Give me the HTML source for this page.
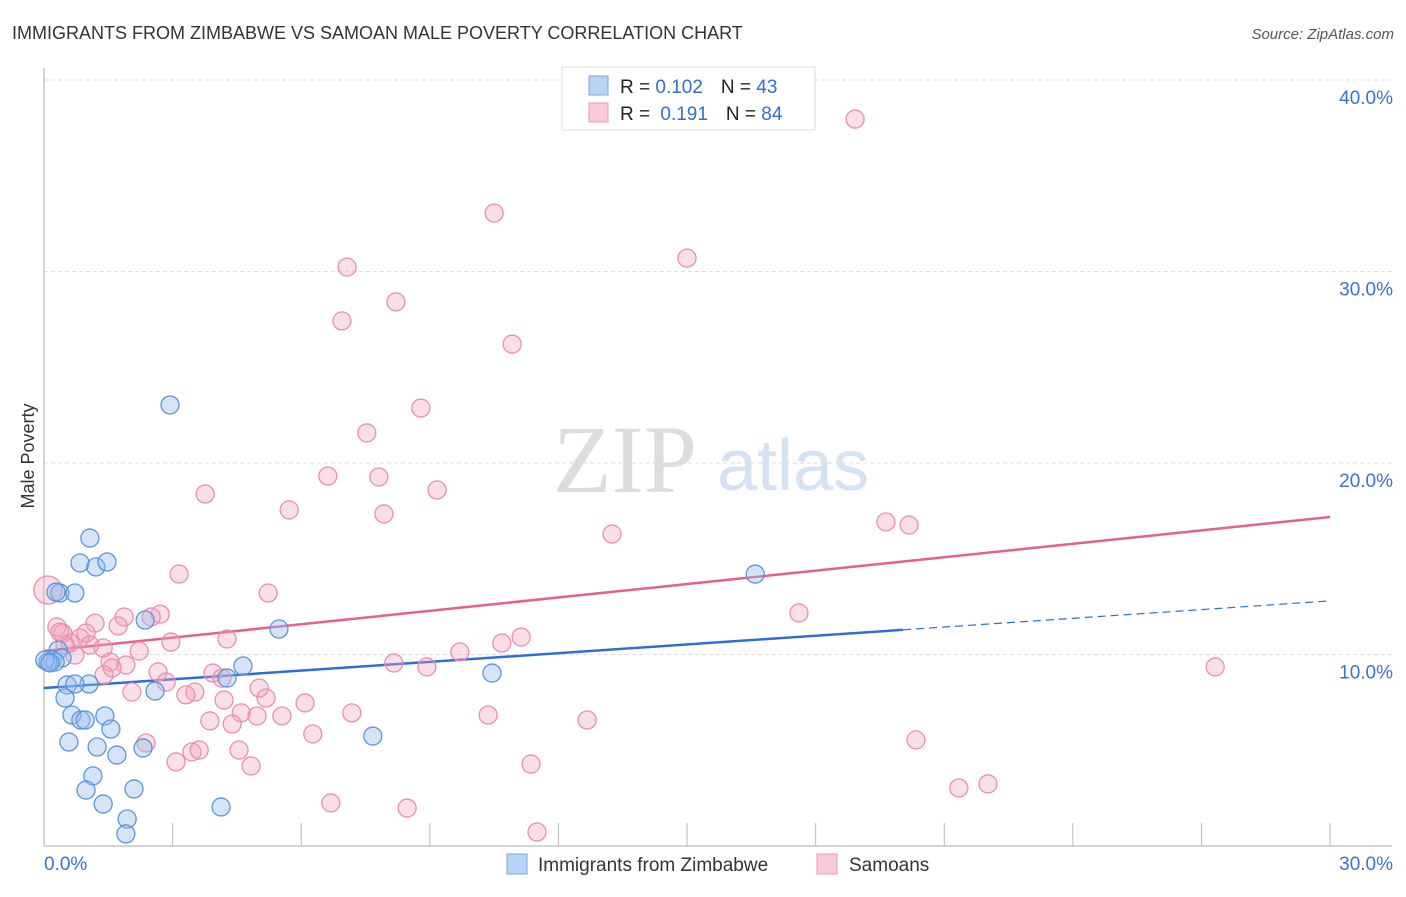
<!DOCTYPE html>
<html><head><meta charset="utf-8"><style>
body{margin:0;background:#fff;font-family:"Liberation Sans",sans-serif}
</style></head><body>
<svg width="1406" height="892" xmlns="http://www.w3.org/2000/svg" font-family="Liberation Sans, sans-serif">
<text x="12" y="39" font-size="18" fill="#333">IMMIGRANTS FROM ZIMBABWE VS SAMOAN MALE POVERTY CORRELATION CHART</text>
<text x="1394" y="39" font-size="15" fill="#555" font-style="italic" text-anchor="end">Source: ZipAtlas.com</text>
<g>
<text x="553" y="492" font-size="96" font-family="Liberation Serif, serif" fill="#ddd">ZIP</text>
<text x="717" y="490" font-size="72" fill="#d4e2f4">atlas</text>
</g>
<g id="grid"></g>
<g id="axes"></g>
<text transform="translate(34,456) rotate(-90)" font-size="18" fill="#333" text-anchor="middle">Male Poverty</text>
<g id="lines"></g>
<g id="pts"></g>
<g>
<rect x="562" y="67" width="253" height="63" fill="#fff" stroke="#ddd"/>
<rect x="589" y="76" width="19" height="19" fill="#b8d3f5" stroke="#7aa6e0"/>
<rect x="589" y="103" width="19" height="19" fill="#f9cad8" stroke="#ec9ab5"/>
<text x="620" y="93" font-size="19" fill="#222">R = <tspan fill="#2f6fd0">0.102</tspan><tspan dx="18">N = </tspan><tspan fill="#2f6fd0">43</tspan></text>
<text x="620" y="120" font-size="19" fill="#222">R = <tspan fill="#2f6fd0" dx="5">0.191</tspan><tspan dx="18">N = </tspan><tspan fill="#2f6fd0">84</tspan></text>
</g>
<g>
<rect x="507" y="854" width="20" height="20" fill="#b8d3f5" stroke="#7aa6e0"/>
<text x="538" y="871" font-size="19" fill="#333">Immigrants from Zimbabwe</text>
<rect x="817" y="854" width="20" height="20" fill="#f9cad8" stroke="#ec9ab5"/>
<text x="849" y="871" font-size="19" fill="#333">Samoans</text>
</g>
</svg>
<script>
const yTicks=[10,20,30,40];
const yTickLabels=["10.0%","20.0%","30.0%","40.0%"];
const xTickLabels=["0.0%","30.0%"];
const blueX=[2.94,1.07,0.84,1.21,1.47,0.37,0.72,2.36,5.48,0.33,0.19,0.42,0.26,0.09,4.64,10.45,0.54,1.05,0.72,2.59,4.27,0.49,0.65,1.42,0.86,0.96,1.56,0.58,1.24,1.70,2.31,7.67,1.14,0.98,2.10,1.38,4.13,1.94,1.91,16.59,0.02,0.14,0.28];
const blueY=[23.03,16.08,14.78,14.57,14.83,13.21,13.21,11.80,11.33,10.23,9.71,9.82,9.61,9.61,9.40,9.03,8.41,8.46,8.46,8.09,8.77,7.73,6.84,6.79,6.58,6.58,6.11,5.43,5.17,4.75,5.12,5.74,3.66,2.92,2.98,2.19,2.04,1.41,0.63,14.20,9.71,9.56,13.26];
const pinkX=[18.92,10.50,15.00,7.07,8.21,6.95,10.92,8.79,7.53,6.62,7.81,9.17,3.76,5.72,7.93,19.64,20.18,13.25,3.15,5.23,1.87,2.71,2.50,1.73,1.19,0.30,0.44,0.98,0.84,0.61,1.38,0.72,0.49,2.96,4.27,11.13,10.68,17.61,2.22,1.54,1.91,1.59,9.70,8.16,8.93,27.32,2.66,3.94,4.15,1.40,2.85,5.02,3.52,3.31,2.05,5.18,6.09,4.20,4.60,4.97,5.55,7.18,10.36,12.67,3.87,4.39,6.27,2.38,20.34,3.08,3.45,3.62,4.55,4.83,11.36,21.34,22.02,6.69,8.47,11.50,0.09,1.07,0.37];
const pinkY=[37.96,33.05,30.70,30.23,28.41,27.42,26.21,22.87,21.57,19.32,19.27,18.59,18.38,17.55,17.34,16.92,16.76,16.29,14.20,13.21,11.96,12.11,11.96,11.49,11.64,11.44,11.12,11.12,10.86,10.60,10.34,9.97,10.50,10.65,10.81,10.91,10.60,12.17,10.18,9.61,9.45,9.30,10.13,9.56,9.35,9.35,9.09,9.03,8.77,8.93,8.56,8.25,8.04,7.89,8.04,7.73,7.47,7.62,6.95,6.79,6.79,6.95,6.84,6.58,6.53,6.37,5.85,5.38,5.54,4.39,4.91,5.01,5.01,4.18,4.28,3.03,3.24,2.25,1.98,0.73,13.37,10.50,11.17];
const blueTrend=[8.25,12.8]; // value at x=0 and x=30
const blueSolidEnd=20.04;
const pinkTrend=[10.18,17.18];
const X=v=>44+v*42.87, Y=v=>846-v*19.15;
const NS="http://www.w3.org/2000/svg";
function mk(t,a,p){const e=document.createElementNS(NS,t);for(const k in a)e.setAttribute(k,a[k]);p.appendChild(e);return e;}
const grid=document.getElementById('grid'),axes=document.getElementById('axes');
yTicks.forEach((t,i)=>{
 const l=mk('line',{x1:44,x2:1392,y1:Y(t),y2:Y(t),stroke:'#ddd','stroke-dasharray':'4,3'},grid);
 
 
 const tx=mk('text',{x:1393,y:Y(t)+24,'font-size':19,fill:'#3a72d0','text-anchor':'end'},axes);
 tx.textContent=yTickLabels[i];
 
 
});
mk('line',{x1:44,x2:44,y1:68,y2:846,stroke:'#aaa'},axes);
mk('line',{x1:44,x2:1392,y1:846,y2:846,stroke:'#aaa'},axes);
for(let i=1;i<=10;i++){const t=mk('line',{x1:X(i*3),x2:X(i*3),y1:823,y2:846,stroke:'#bbb'},axes);
 
 }
[[0,'start',44],[30,'end',1393]].forEach((d,i)=>{const t=mk('text',{x:d[2],y:870,'font-size':19,fill:'#3a72d0','text-anchor':d[1]},axes);t.textContent=xTickLabels[i];
 
 });
const pts=document.getElementById('pts');
function pt(x,y,c,s,r){const e=mk('circle',{cx:X(x),cy:Y(y),r:r,fill:c,stroke:s,'stroke-width':1.3},pts);return e;}
pinkX.forEach((x,i)=>{const e=pt(x,pinkY[i],'rgba(244,160,185,0.35)','#e98fae',i==80?14:9);
 
 });
blueX.forEach((x,i)=>{const e=pt(x,blueY[i],'rgba(150,190,240,0.4)','#5b93dd',9);
 
 });
const lines=document.getElementById('lines');
const bv=x=>blueTrend[0]+(blueTrend[1]-blueTrend[0])*x/30, pv=x=>pinkTrend[0]+(pinkTrend[1]-pinkTrend[0])*x/30;
let a=mk('line',{x1:X(0),y1:Y(bv(0)),x2:X(blueSolidEnd),y2:Y(bv(blueSolidEnd)),stroke:'#2d6fd6','stroke-width':2.5},lines);


a=mk('line',{x1:X(blueSolidEnd),y1:Y(bv(blueSolidEnd)),x2:X(30),y2:Y(bv(30)),stroke:'#2d6fd6','stroke-width':1.2,'stroke-dasharray':'8,5'},lines);


a=mk('line',{x1:X(0),y1:Y(pv(0)),x2:X(30),y2:Y(pv(30)),stroke:'#e5608c','stroke-width':2.5},lines);


</script>
</body></html>
